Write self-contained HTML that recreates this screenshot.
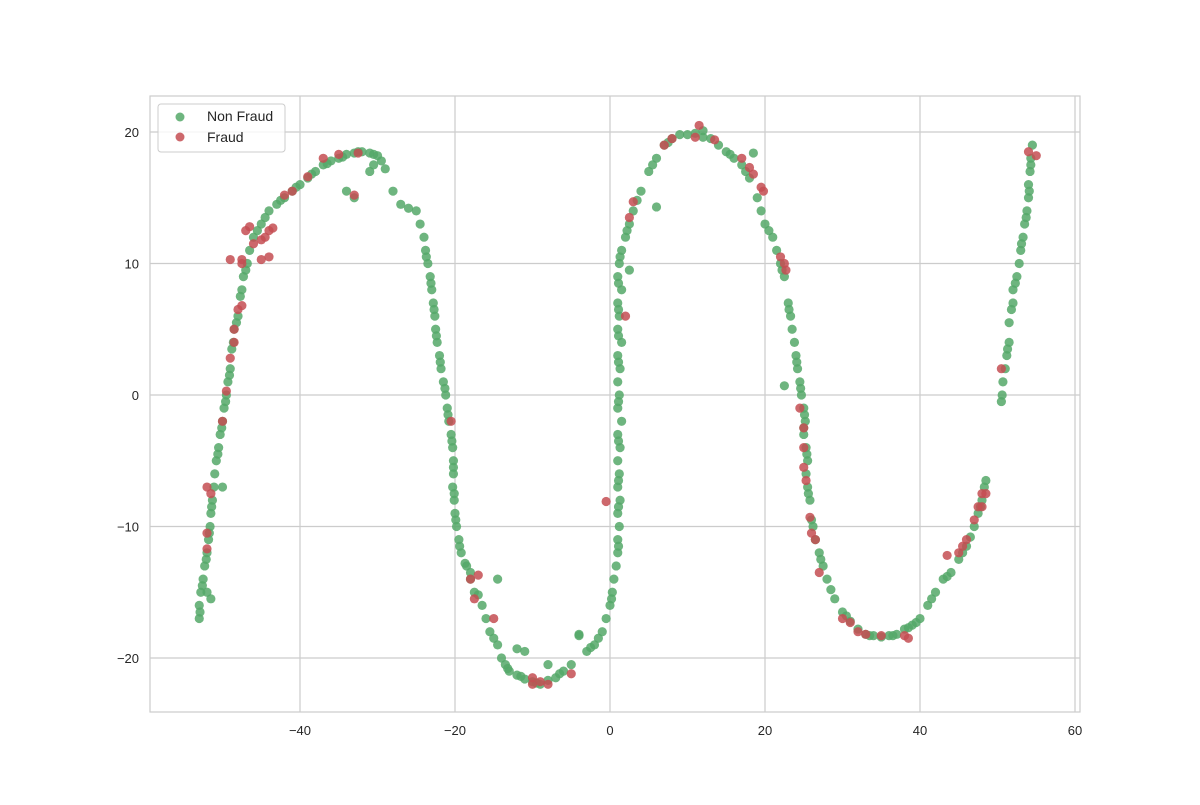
<!DOCTYPE html>
<html><head><meta charset="utf-8">
<style>
html,body{margin:0;padding:0;background:#fff;}
svg text{font-family:"Liberation Sans",Arial,sans-serif;fill:#262626;}
</style></head>
<body>
<svg id="chart" width="1200" height="800" xmlns="http://www.w3.org/2000/svg">
<rect x="0" y="0" width="1200" height="800" fill="#fff"/>
<g id="grid"></g>
<rect x="150" y="96" width="930" height="616" fill="none" stroke="#cccccc" stroke-width="1.2"/>
<g id="ticks"></g>
<g id="marks"></g>
<g>
<rect x="158" y="104" width="127" height="48" rx="3" fill="#fff" fill-opacity="0.8" stroke="#cccccc"/>
<circle cx="180" cy="117" r="4.5" fill="#55a868" fill-opacity="0.85"/>
<text x="207" y="121" font-size="14">Non Fraud</text>
<circle cx="180" cy="137" r="4.5" fill="#c44e52" fill-opacity="0.85"/>
<text x="207" y="142" font-size="14">Fraud</text>
</g>
</svg>
<script>
const xTicks = [-40, -20, 0, 20, 40, 60];
const yTicks = [-20, -10, 0, 10, 20];
const nonFraudX = [-53,-53,-52.8,-52.5,-52.3,-52,-51.8,-51.6,-51.5,-51.3,-51,-50.8,-50.5,-50.3,-50,-49.8,-49.5,-49.3,-49,-48.8,-48.5,-48,-47.7,-47.3,-46.8,-46.5,-46,-45,-44,-43,-42,-41,-40,-39,-38,-37,-36,-35,-34,-33,-32,-31,-30,-29.5,-29,-28,-27,-26,-25,-24.5,-24,-23.8,-23.5,-23.2,-23,-22.8,-22.6,-22.5,-22.3,-22,-21.8,-21.5,-21.2,-21,-20.8,-20.5,-20.3,-20.2,-20.2,-20.3,-20.1,-20,-19.8,-19.5,-19.2,-18.5,-18,-17.5,-16.5,-16,-15.5,-15,-14.5,-14,-13.5,-13,-12,-11,-10,-9,-8,-7,-6,-5,-4,-3,-2,-1,-0.5,0,0.3,0.5,0.8,1,1,1.2,1,1.3,1,1.2,1,1.3,1,1.5,1,1.2,1,1.3,1,1.5,1,1.2,1,1.5,1,1.2,1.5,2,2.5,3,4,5,6,7,8,9,10,12,13,14,15,16,17,18,19,19.5,20,21,21.5,22,22.5,23,23.3,23.5,23.8,24,24.2,24.5,24.7,25,25.2,25,25.3,25.5,25.3,25.5,25.8,26,26.5,27,27.5,28,29,30,31,32,33,34,35,36,37,38,39,40,41,42,43,44,45,46,47,47.5,48,48.3,48.5,50.5,50.7,51,51.2,51.5,51.5,52,52,52.5,52.8,53,53.3,53.5,53.8,54,54,54.2,54.3,54.5,-34,-33,-50,-52,-51.5,-31,-30.5,6,2.5,-4,-14.5,-17,-18,-11,-12,-8,18.5,12,25,22.5,
-52.9,-52.6,-52.1,-51.7,-51.4,-51.1,-50.6,-50.1,-49.6,-49.1,-48.6,-48.2,-47.5,-47,-45.5,-44.5,-42.5,-40.5,-38.5,-36.5,-34.5,-32.5,-30.5,-23.7,-23.1,-22.7,-22.4,-21.9,-21.3,-20.9,-20.4,-20.2,-20.1,-19.9,-19.4,-18.7,-13.2,-11.5,-9.5,-6.5,-2.5,-1.5,0.2,1.1,1.1,1.1,1.1,1.1,1.1,1.1,1.1,1.1,1.3,2.2,3.5,5.5,7.5,11,15.5,17.5,20.5,22.2,23.1,24.1,24.6,25.1,25.4,25.6,26.2,27.2,28.5,30.5,33.5,36.5,38.5,39.5,41.5,43.5,45.5,46.5,47.8,50.6,51.3,51.8,52.3,53.1,53.7,54.1,54.3];
const nonFraudY = [-17,-16,-15,-14,-13,-12,-11,-10,-9,-8,-6,-5,-4,-3,-2,-1,0,1,2,3.5,5,6,7.5,9,10,11,12,13,14,14.5,15,15.5,16,16.5,17,17.5,17.8,18,18.3,18.4,18.5,18.4,18.2,17.8,17.2,15.5,14.5,14.2,14,13,12,11,10,9,8,7,6,5,4,3,2,1,0,-1,-2,-3,-4,-5,-6,-7,-8,-9,-10,-11,-12,-13,-14,-15,-16,-17,-18,-18.5,-19,-20,-20.5,-21,-21.3,-21.6,-21.8,-22,-21.7,-21.5,-21,-20.5,-18.2,-19.5,-19,-18,-17,-16,-15,-14,-13,-12,-11,-10,-9,-8,-7,-6,-5,-4,-3,-2,-1,0,1,2,3,4,5,6,7,8,9,10,11,12,13,14,15.5,17,18,19,19.5,19.8,19.8,19.6,19.5,19,18.5,18,17.5,16.5,15,14,13,12,11,10,9,7,6,5,4,3,2,1,0,-1,-2,-3,-4,-5,-6,-7,-8,-9.5,-11,-12,-13,-14,-15.5,-16.5,-17.2,-17.8,-18.2,-18.3,-18.4,-18.3,-18.2,-17.8,-17.5,-17,-16,-15,-14,-13.5,-12.5,-11.5,-10,-9,-8,-7,-6.5,-0.5,1,2,3,4,5.5,7,8,9,10,11,12,13,14,15,16,17,18,19,15.5,15,-7,-15,-15.5,17,17.5,14.3,9.5,-18.3,-14,-15.2,-13.5,-19.5,-19.3,-20.5,18.4,20.1,-2.5,0.7,
-16.5,-14.5,-12.5,-10.5,-8.5,-7,-4.5,-2.5,-0.5,1.5,4,5.5,8,9.5,12.5,13.5,14.8,15.8,16.8,17.6,18.1,18.5,18.3,10.5,8.5,6.5,4.5,2.5,0.5,-1.5,-3.5,-5.5,-7.5,-9.5,-11.5,-12.8,-20.8,-21.4,-21.9,-21.2,-19.2,-18.5,-15.5,-11.5,-8.5,-6.5,-3.5,-0.5,2.5,4.5,6.5,8.5,10.5,12.5,14.8,17.5,19.2,19.9,18.3,17,12.5,9.5,6.5,2.5,0.5,-1.5,-4.5,-7.5,-10,-12.5,-14.8,-16.8,-18.3,-18.3,-17.7,-17.3,-15.5,-13.8,-12,-10.8,-8.5,0,3.5,6.5,8.5,11.5,13.5,15.5,17.5];
const fraudX = [-52,-52,-51.5,-52,-50,-49.5,-49,-48.5,-48.5,-48,-47.5,-49,-47.5,-47.5,-46,-45,-44.5,-44,-43.5,-44,-45,-47,-46.5,-42,-41,-39,-37,-35,-33,-32.5,2,2.5,3,-0.5,7,8,11.5,11,13.5,17,18,18.5,19.5,19.8,22,22.5,22.7,24.5,25,25,25.3,25,25.8,26,26.5,27,30,31,32,33,35,38,38.5,43.5,45,45.5,46,47,47.5,48,48,48.5,-17.5,-17,-18,-15,-10,-9,-8,-5,-20.5,50.5,54,55,-10];
const fraudY = [-11.7,-10.5,-7.5,-7,-2,0.3,2.8,4,5,6.5,6.8,10.3,10,10.3,11.5,11.8,12,12.5,12.7,10.5,10.3,12.5,12.8,15.2,15.5,16.6,18,18.3,15.2,18.4,6,13.5,14.7,-8.1,19,19.5,20.5,19.6,19.4,18,17.3,16.8,15.8,15.5,10.5,10,9.5,-1,-2.5,-5.5,-6.5,-4,-9.3,-10.5,-11,-13.5,-17,-17.3,-18,-18.2,-18.3,-18.3,-18.5,-12.2,-12,-11.5,-11,-9.5,-8.5,-8.5,-7.5,-7.5,-15.5,-13.7,-14,-17,-22,-21.8,-22,-21.2,-2,2,18.5,18.2,-21.5];

const NS = "http://www.w3.org/2000/svg";
function sx(v){ return 610 + v * 7.75; }
function sy(v){ return 395 - v * 13.15; }
const grid = document.getElementById('grid');
const ticks = document.getElementById('ticks');
const marks = document.getElementById('marks');

xTicks.forEach(t => {
  const l = document.createElementNS(NS,'line');
  
  
  l.setAttribute('x1',sx(t)); l.setAttribute('x2',sx(t));
  l.setAttribute('y1',96); l.setAttribute('y2',712);
  l.setAttribute('stroke','#cccccc'); l.setAttribute('stroke-width','1.2');
  grid.appendChild(l);
  const tx = document.createElementNS(NS,'text');
  
  
  tx.setAttribute('x',sx(t)); tx.setAttribute('y',735);
  tx.setAttribute('text-anchor','middle'); tx.setAttribute('font-size','13');
  tx.textContent = t < 0 ? '\u2212' + Math.abs(t) : String(t);
  ticks.appendChild(tx);
});
yTicks.forEach(t => {
  const l = document.createElementNS(NS,'line');
  
  
  l.setAttribute('x1',150); l.setAttribute('x2',1080);
  l.setAttribute('y1',sy(t)); l.setAttribute('y2',sy(t));
  l.setAttribute('stroke','#cccccc'); l.setAttribute('stroke-width','1.2');
  grid.appendChild(l);
  const tx = document.createElementNS(NS,'text');
  
  
  tx.setAttribute('x',139); tx.setAttribute('y',sy(t)+5);
  tx.setAttribute('text-anchor','end'); tx.setAttribute('font-size','13');
  tx.textContent = t < 0 ? '\u2212' + Math.abs(t) : String(t);
  ticks.appendChild(tx);
});
function drawSeries(xs, ys, color, name){
  for (let i = 0; i < xs.length; i++) {
    const c = document.createElementNS(NS,'circle');
    
    
    c.setAttribute('cx', sx(xs[i])); c.setAttribute('cy', sy(ys[i]));
    c.setAttribute('r', 4.6);
    c.setAttribute('fill', color); c.setAttribute('fill-opacity', '0.85');
    marks.appendChild(c);
  }
}
drawSeries(nonFraudX, nonFraudY, '#55a868', 'non-fraud-point');
drawSeries(fraudX, fraudY, '#c44e52', 'fraud-point');
</script>
</body></html>
